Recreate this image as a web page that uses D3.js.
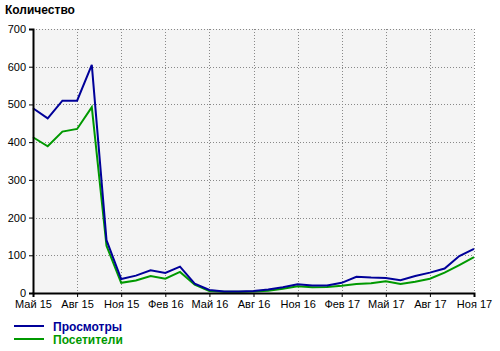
<!DOCTYPE html>
<html>
<head>
<meta charset="utf-8">
<script src="https://cdnjs.cloudflare.com/ajax/libs/d3/7.8.5/d3.min.js"></script>
<style>
  body { margin: 0; background: #fff; }
  svg { display: block; font-family: "Liberation Sans", Arial, sans-serif; }
</style>
</head>
<body>
<script>
// monthly stats, May 15 .. Nov 17
var months = ["Май 15","Июн 15","Июл 15","Авг 15","Сен 15","Окт 15","Ноя 15","Дек 15",
              "Янв 16","Фев 16","Мар 16","Апр 16","Май 16","Июн 16","Июл 16","Авг 16",
              "Сен 16","Окт 16","Ноя 16","Дек 16","Янв 17","Фев 17","Мар 17","Апр 17",
              "Май 17","Июн 17","Июл 17","Авг 17","Сен 17","Окт 17","Ноя 17"];

var views = [490, 463, 510, 510, 605, 140, 37, 46, 60, 53, 70, 25, 8, 4, 4, 5,
             9, 15, 23, 20, 20, 27, 43, 41, 40, 34, 45, 54, 65, 98, 117];

var visitors = [413, 389, 428, 435, 493, 125, 27, 33, 45, 38, 56, 22, 5, 3, 3, 4,
                6, 11, 18, 15, 16, 19, 24, 26, 31, 24, 30, 38, 54, 74, 95];

var yTicks = [0, 100, 200, 300, 400, 500, 600, 700];

var series = [
  {name: "Посетители", values: visitors, color: "#009900"},
  {name: "Просмотры", values: views, color: "#000099"}
];

var W = 500, H = 351;
var margin = {top: 29, right: 26, bottom: 58, left: 33},
    w = W - margin.left - margin.right,
    h = H - margin.top - margin.bottom;

var svg = d3.select("body").append("svg")
    .attr("width", W)
    .attr("height", H);

//title
svg.append("text")
   .attr("x", 5)
   .attr("y", 14)
   .attr("font-size", "12px")
   .attr("font-weight", "bold")
   .attr("fill", "#000")
   .text("Количество");

var g = svg.append("g")
    .attr("transform", "translate(" + margin.left + "," + margin.top + ")");

var xScale = d3.scaleLinear()
    .domain([0, months.length - 1])
    .range([0, w]);

var yScale = d3.scaleLinear()
    .domain([0, 700])
    .range([h, 0]);

//plot background
g.append("rect")
 .attr("width", w)
 .attr("height", h)
 .attr("fill", "#f4f4f4");

var xTickIdx = d3.range(0, months.length, 3);

//grid
g.selectAll(".hgrid")
 .data(yTicks)
 .enter()
 .append("line")
 .attr("x1", 0)
 .attr("x2", w)
 .attr("y1", function(d) { return Math.round(yScale(d)) + 0.5; })
 .attr("y2", function(d) { return Math.round(yScale(d)) + 0.5; })
 .attr("stroke", "#888")
 .attr("stroke-dasharray", "1,2");

g.selectAll(".vgrid")
 .data(xTickIdx)
 .enter()
 .append("line")
 .attr("x1", function(d) { return Math.round(xScale(d)) + 0.5; })
 .attr("x2", function(d) { return Math.round(xScale(d)) + 0.5; })
 .attr("y1", 0)
 .attr("y2", h)
 .attr("stroke", "#888")
 .attr("stroke-dasharray", "1,2");

//lines
var line = d3.line()
    .x(function(d, i) { return xScale(i); })
    .y(function(d) { return yScale(d); });

g.selectAll(".series")
 .data(series)
 .enter()
 .append("path")
 .attr("d", function(d) { return line(d.values); })
 .attr("fill", "none")
 .attr("stroke", function(d) { return d.color; })
 .attr("stroke-width", 2)
 .attr("stroke-linejoin", "miter");

//axes
var yAxis = d3.axisLeft(yScale)
    .tickValues(yTicks)
    .tickSize(4)
    .tickPadding(3);

var xAxis = d3.axisBottom(xScale)
    .tickValues(xTickIdx)
    .tickFormat(function(d) { return months[d]; })
    .tickSize(4)
    .tickPadding(3);

var ya = g.append("g").call(yAxis);
var xa = g.append("g").attr("transform", "translate(0," + h + ")").call(xAxis);

[ya, xa].forEach(function(a) {
  a.select(".domain").attr("stroke", "#000").attr("stroke-width", 2);
  a.selectAll(".tick line").attr("stroke", "#000");
  a.selectAll("text")
   .attr("font-family", "Liberation Sans, Arial, sans-serif")
   .attr("font-size", "11px")
   .attr("fill", "#000");
});

//legend
var legend = svg.selectAll(".legend")
    .data(series.slice().reverse())
    .enter()
    .append("g")
    .attr("transform", function(d, i) { return "translate(14," + (326 + i * 13) + ")"; });

legend.append("line")
      .attr("x1", 0)
      .attr("x2", 30)
      .attr("stroke", function(d) { return d.color; })
      .attr("stroke-width", 2);

legend.append("text")
      .attr("x", 39)
      .attr("y", 5)
      .attr("font-size", "12px")
      .attr("font-weight", "bold")
      .attr("fill", function(d) { return d.color; })
      .text(function(d) { return d.name; });
</script>
</body>
</html>
